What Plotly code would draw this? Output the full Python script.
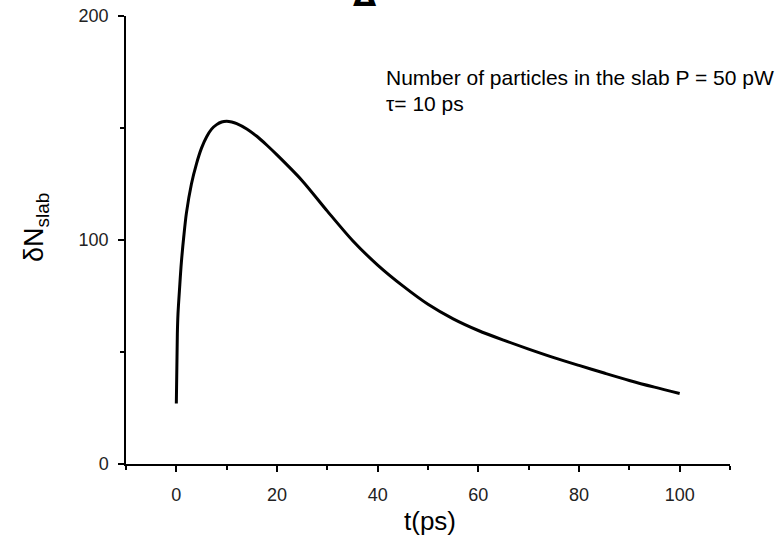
import plotly.graph_objects as go

t_ps = [0, 0.2, 0.33, 0.66, 1, 1.5, 2, 3, 4, 5, 6, 7, 8, 9, 10, 11, 12, 14, 16, 18, 20,
        25, 30, 35, 40, 45, 50, 55, 60, 65, 70, 75, 80, 85, 90, 95, 100]
dN_slab = [27, 58, 67, 79, 90, 102, 112, 125, 134, 141, 146, 149.5, 151.5, 152.7, 153, 152.7, 152,
           149.6, 146.3, 142.3, 138, 126.5, 112.9, 99.8, 88.8, 79.5, 71.3, 64.8, 59.6, 55.3, 51.3,
           47.5, 44, 40.6, 37.3, 34.3, 31.5]

x_ticks = [0, 20, 40, 60, 80, 100]
y_ticks = [0, 100, 200]

FONT = "Liberation Sans, Arial, sans-serif"

W, H = 780, 543
L, T, R, B = 126, 16, 780 - 730, 543 - 464

fig = go.Figure()
fig.add_trace(go.Scatter(x=t_ps, y=dN_slab, mode="lines",
                         line=dict(color="black", width=3, shape="spline", smoothing=0.8),
                         showlegend=False, hoverinfo="skip"))

axis_common = dict(showline=True, linecolor="black", linewidth=1.5, mirror=False,
                   ticks="outside", ticklen=6, tickwidth=1.5, tickcolor="black",
                   showgrid=False, zeroline=False, automargin=False,
                   ticklabeloverflow="allow",
                   tickfont=dict(family=FONT, size=18, color="#222"))

fig.update_xaxes(range=[-10, 110], tickvals=x_ticks, ticklabelstandoff=8,
                 minor=dict(dtick=10, tick0=0, ticklen=4, tickwidth=1.5, tickcolor="black", ticks="outside"),
                 **axis_common)
fig.update_yaxes(range=[0, 200], tickvals=y_ticks, ticklabelstandoff=6,
                 minor=dict(dtick=50, tick0=0, ticklen=4, tickwidth=1.5, tickcolor="black", ticks="outside"),
                 **axis_common)

PW, PH = 604, 448


def px(xp):
    return (xp - 126) / PW


def py(yp):
    return (464 - yp) / PH


fig.add_annotation(text="t(ps)", xref="paper", yref="paper", x=px(430), y=py(521),
                   xanchor="center", yanchor="middle", showarrow=False,
                   font=dict(family=FONT, size=26, color="black"))
fig.add_annotation(text="δN<sub>slab</sub>", xref="paper", yref="paper", x=px(36), y=py(228),
                   xanchor="center", yanchor="middle", textangle=-90, showarrow=False,
                   font=dict(family=FONT, size=27, color="black"))
fig.add_annotation(text="Number of particles in the slab P = 50 pW", xref="paper", yref="paper",
                   x=px(384), y=py(78), xanchor="left", yanchor="middle",
                   showarrow=False, font=dict(family=FONT, size=21, color="black"))
fig.add_annotation(text="τ= 10 ps", xref="paper", yref="paper",
                   x=px(384), y=py(104), xanchor="left", yanchor="middle",
                   showarrow=False, font=dict(family=FONT, size=21, color="black"))
fig.add_annotation(text="<b>Δ</b>", xref="paper", yref="paper",
                   x=px(365), y=py(15), xanchor="center", yanchor="bottom",
                   showarrow=False, font=dict(family="DejaVu Sans, sans-serif", size=30, color="black"))

fig.update_layout(width=W, height=H, plot_bgcolor="white", paper_bgcolor="white",
                  margin=dict(l=L, r=R, t=T, b=B, autoexpand=False))

fig.write_html("out.html", config={"displayModeBar": False},
               post_script="document.body.style.margin='0';")
